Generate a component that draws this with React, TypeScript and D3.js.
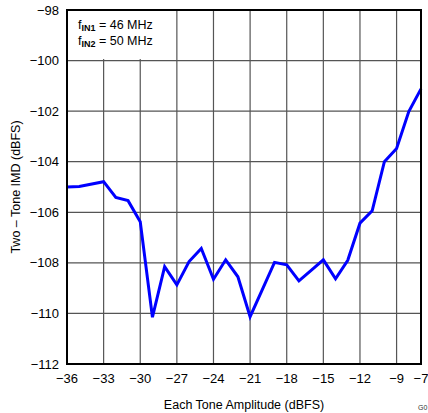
import React from "react";
import * as d3 from "d3";

const xValues = [-36, -35, -33, -32, -31, -30, -29, -28, -27, -26, -25, -24, -23, -22, -21, -20, -19, -18, -17, -16, -15, -14, -13, -12, -11, -10, -9, -8, -7];
const imdValues = [-105.0, -104.98, -104.79, -105.41, -105.54, -106.37, -110.15, -108.15, -108.87, -107.95, -107.43, -108.65, -107.88, -108.55, -110.13, -109.06, -107.98, -108.08, -108.71, -108.3, -107.88, -108.63, -107.9, -106.43, -105.94, -104.0, -103.48, -102.02, -101.12];
const xTicks = [-36, -33, -30, -27, -24, -21, -18, -15, -12, -9, -7];
const yTicks = [-98, -100, -102, -104, -106, -108, -110, -112];

const W = 428;
const H = 413;
const M = { left: 67, right: 421, top: 10, bottom: 364 };
const FONT = "'Liberation Sans', Arial, Helvetica, sans-serif";
const fmt = (v: number) => (v < 0 ? "\u2212" + Math.abs(v) : String(v));

export default function App() {
  const x = d3.scaleLinear().domain([-36, -7]).range([M.left, M.right]);
  const y = d3.scaleLinear().domain([-112, -98]).range([M.bottom, M.top]);
  const line = d3
    .line<number>()
    .x((_, i) => x(xValues[i]))
    .y((d) => y(d));
  const pts = imdValues;

  return (
    <svg
      width={W}
      height={H}
      style={{ position: "absolute", left: 0, top: 0, display: "block", background: "#fff" }}
      fontFamily={FONT}
    >
      <rect x={0} y={0} width={W} height={H} fill="#fff" />
      {/* grid */}
      {xTicks
        .filter((t) => t !== -36 && t !== -7)
        .map((t) => (
          <line key={"gx" + t} x1={x(t)} x2={x(t)} y1={M.top} y2={M.bottom} stroke="#555" strokeWidth={1.2} />
        ))}
      {yTicks
        .filter((t) => t !== -98 && t !== -112)
        .map((t) => (
          <line key={"gy" + t} x1={M.left} x2={M.right} y1={y(t)} y2={y(t)} stroke="#555" strokeWidth={1.2} />
        ))}
      {/* legend box */}
      <rect x={M.left} y={M.top} width={92} height={y(-100) - M.top - 1.5} fill="#fff" />
      <text x={78} y={29} fontSize={12.5} fill="#000">
        f<tspan fontSize={9} fontWeight="bold" dy={2}>IN1</tspan>
        <tspan dy={-2}> = 46 MHz</tspan>
      </text>
      <text x={78} y={45} fontSize={12.5} fill="#000">
        f<tspan fontSize={9} fontWeight="bold" dy={2}>IN2</tspan>
        <tspan dy={-2}> = 50 MHz</tspan>
      </text>
      {/* data */}
      <path d={line(pts) || ""} fill="none" stroke="#0000ff" strokeWidth={3} strokeLinejoin="miter" />
      {/* frame */}
      <rect x={M.left} y={M.top} width={M.right - M.left} height={M.bottom - M.top} fill="none" stroke="#000" strokeWidth={2} />
      {/* y tick labels */}
      {yTicks.map((t) => (
        <text key={"yl" + t} x={59} y={y(t) + 4.5} fontSize={13} textAnchor="end" fill="#000">
          {fmt(t)}
        </text>
      ))}
      {/* x tick labels */}
      {xTicks.map((t) => (
        <text key={"xl" + t} x={x(t)} y={383} fontSize={13} textAnchor="middle" fill="#000">
          {fmt(t)}
        </text>
      ))}
      <text x={244} y={409} fontSize={12.5} textAnchor="middle" fill="#000">
        Each Tone Amplitude (dBFS)
      </text>
      <text
        transform={`translate(20, ${(M.top + M.bottom) / 2}) rotate(-90)`}
        fontSize={12.5}
        textAnchor="middle"
        fill="#000"
      >
        Two – Tone IMD (dBFS)
      </text>
      <text x={418} y={410} fontSize={7} fill="#333">
        G0
      </text>
    </svg>
  );
}
